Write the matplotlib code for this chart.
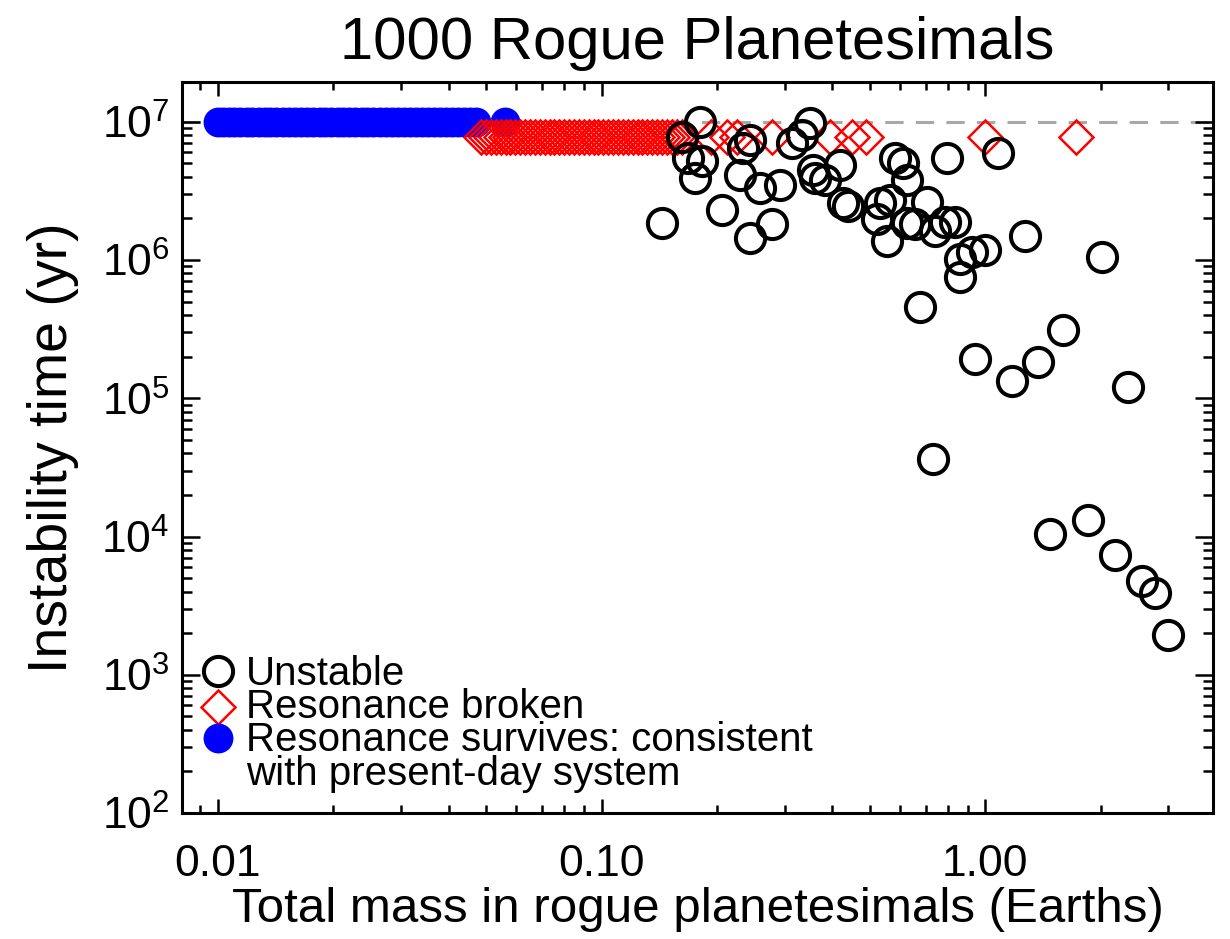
import numpy as np
import matplotlib
matplotlib.use("Agg")
import matplotlib.pyplot as plt
from matplotlib.ticker import FixedLocator, FuncFormatter, LogLocator, NullFormatter

plt.rcParams['font.family'] = ['Liberation Sans', 'DejaVu Sans']
plt.rcParams['mathtext.fontset'] = 'custom'
plt.rcParams['mathtext.rm'] = 'Liberation Sans'
plt.rcParams['mathtext.it'] = 'Liberation Sans:italic'

# --- data ---
survives_mass = [0.0100, 0.0103, 0.0107, 0.0110, 0.0114, 0.0119, 0.0123, 0.0128, 0.0133, 0.0137,
                 0.0142, 0.0148, 0.0153, 0.0159, 0.0165, 0.0171, 0.0177, 0.0184, 0.0190, 0.0197,
                 0.0205, 0.0212, 0.0220, 0.0228, 0.0237, 0.0245, 0.0254, 0.0264, 0.0274, 0.0284,
                 0.0294, 0.0305, 0.0316, 0.0328, 0.0340, 0.0353, 0.0366, 0.0379, 0.0393, 0.0408,
                 0.0423, 0.0438, 0.0455, 0.0470, 0.0560]
survives_time = 1.0e7

broken_mass = [0.0485, 0.0500, 0.0515, 0.0530, 0.0546, 0.0562, 0.0579, 0.0596, 0.0614, 0.0632,
               0.0651, 0.0670, 0.0690, 0.0711, 0.0732, 0.0754, 0.0776, 0.0800, 0.0823, 0.0848,
               0.0873, 0.0899, 0.0926, 0.0954, 0.0982, 0.1011, 0.1041, 0.1072, 0.1104, 0.1137,
               0.1171, 0.1206, 0.1242, 0.1279, 0.1317, 0.1356, 0.1397, 0.1438, 0.1481, 0.1525,
               0.1571, 0.1618, 0.193, 0.213, 0.226, 0.278, 0.395, 0.45, 0.49, 1.00, 1.73]
broken_time = 7.8e6

unstable_mass = [0.144, 0.181, 0.162, 0.168, 0.183, 0.175, 0.206, 0.230, 0.234, 0.244,
                 0.244, 0.278, 0.259, 0.292, 0.313, 0.333, 0.350, 0.360, 0.383, 0.419,
                 0.427, 0.440, 0.522, 0.555, 0.582, 0.612, 0.532, 0.565, 0.625, 0.356,
                 0.627, 0.707, 0.657, 0.741, 0.787, 0.836, 0.861, 0.861, 0.925, 1.00,
                 1.27, 2.02, 0.796, 1.08, 0.677, 0.942, 1.175, 1.375, 1.597, 2.36,
                 0.731, 1.477, 1.856, 2.18, 2.57, 2.77, 3.00]
unstable_time = [1.86e6, 1.0e7, 7.8e6, 5.47e6, 5.17e6, 3.93e6, 2.32e6, 4.15e6, 6.46e6, 7.42e6,
                 1.45e6, 1.81e6, 3.33e6, 3.51e6, 7.02e6, 8.06e6, 9.8e6, 3.93e6, 3.82e6, 4.9e6,
                 2.59e6, 2.45e6, 1.97e6, 1.37e6, 5.47e6, 5.04e6, 2.59e6, 2.74e6, 1.86e6, 4.51e6,
                 3.82e6, 2.65e6, 1.81e6, 1.61e6, 1.87e6, 1.87e6, 1.01e6, 7.5e5, 1.14e6, 1.19e6,
                 1.48e6, 1.06e6, 5.5e6, 5.98e6, 4.6e5, 1.92e5, 1.33e5, 1.83e5, 3.11e5, 1.21e5,
                 3.66e4, 1.05e4, 1.31e4, 7.3e3, 4.8e3, 3.9e3, 1.94e3]

x_ticks = [0.01, 0.1, 1.0]
legend_labels = ["Unstable", "Resonance broken",
                 "Resonance survives: consistent", "with present-day system"]

# --- figure ---
fig = plt.figure(figsize=(12.3, 9.39), dpi=100)
ax = fig.add_axes([0.1480, 0.1342, 0.8382, 0.7788])

ax.axhline(1e7, color='#a8a8a8', lw=2.2, ls=(0, (6, 4)), zorder=1)

ax.plot(survives_mass, [survives_time] * len(survives_mass), 'o', ms=21.5,
        mfc='#0000ff', mec='none', zorder=2)
ax.plot(broken_mass, [broken_time] * len(broken_mass), 'D', ms=17.5,
        mfc='none', mec='#ff0000', mew=1.8, zorder=3)
ax.plot(unstable_mass, unstable_time, 'o', ms=21, mfc='none', mec='black',
        mew=2.9, zorder=4)

ax.set_xscale('log')
ax.set_yscale('log')
ax.set_xlim(0.00806, 3.93)
ax.set_ylim(1.0e2, 1.95e7)

ax.xaxis.set_major_locator(FixedLocator(x_ticks))
ax.xaxis.set_major_formatter(FuncFormatter(lambda v, p: "%.2f" % v))
ax.xaxis.set_minor_locator(LogLocator(base=10, subs=np.arange(2, 10)))
ax.xaxis.set_minor_formatter(NullFormatter())
ax.yaxis.set_major_locator(LogLocator(base=10, numticks=10))
ax.yaxis.set_minor_locator(LogLocator(base=10, subs=np.arange(2, 10), numticks=10))
ax.yaxis.set_minor_formatter(NullFormatter())

ax.tick_params(which='both', direction='in', top=True, right=True, width=1.8,
               labelsize=32, colors='black')
ax.tick_params(axis='x', which='major', length=10, pad=22)
ax.tick_params(axis='x', which='minor', length=5.5)
ax.tick_params(axis='y', which='major', length=13, pad=9)
ax.tick_params(axis='y', which='minor', length=7)
for s in ax.spines.values():
    s.set_linewidth(2.2)

ax.set_title("1000 Rogue Planetesimals", fontsize=43, pad=16)
ax.set_xlabel("Total mass in rogue planetesimals (Earths)", fontsize=35.5, labelpad=2)
ax.set_ylabel("Instability time (yr)", fontsize=40, labelpad=16)

# legend drawn by hand, IDL style: markers plus one block of text
mx, tx = 0.035, 0.062
ax.plot([mx], [0.194], 'o', ms=21, mfc='none', mec='black', mew=2.9,
        transform=ax.transAxes, clip_on=False)
ax.plot([mx], [0.145], 'D', ms=17.5, mfc='none', mec='#ff0000', mew=1.8,
        transform=ax.transAxes, clip_on=False)
ax.plot([mx], [0.1026], 'o', ms=21.5, mfc='#0000ff', mec='none',
        transform=ax.transAxes, clip_on=False)
ax.text(tx, 0.216, "\n".join(legend_labels), transform=ax.transAxes,
        fontsize=29, va='top', ha='left', linespacing=0.84)

fig.savefig("out.png", dpi=100)
